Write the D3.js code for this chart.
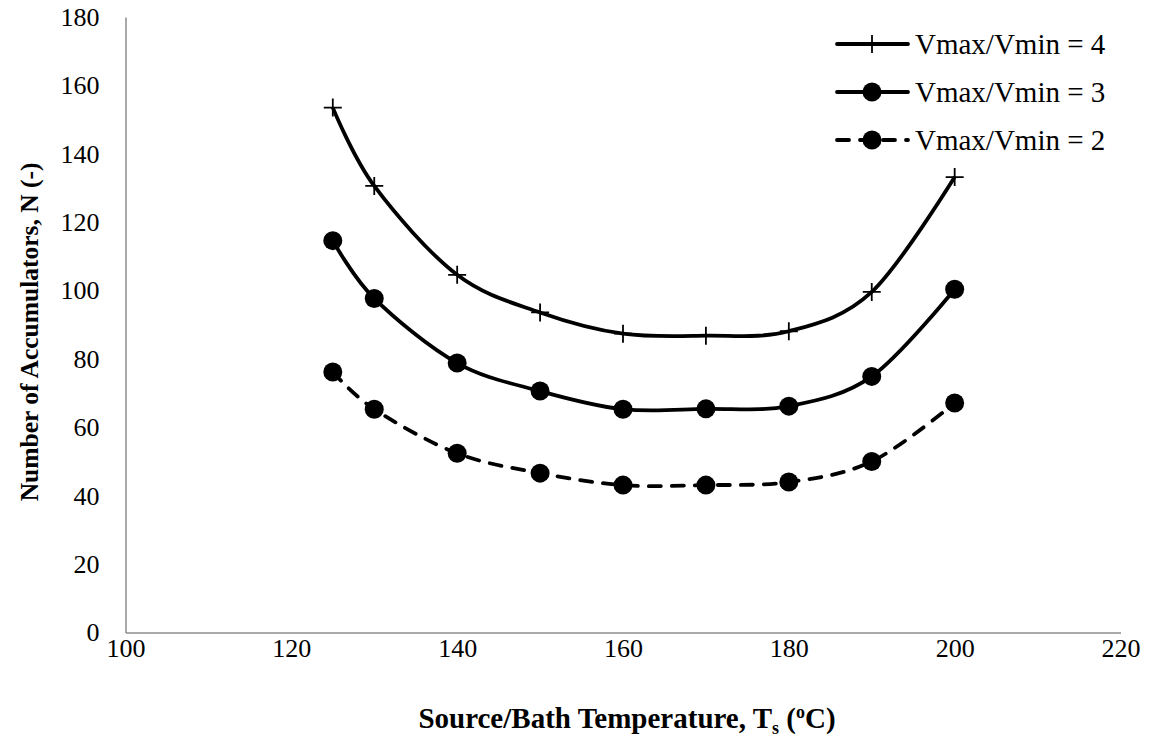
<!DOCTYPE html>
<html>
<head>
<meta charset="utf-8">
<script src="https://cdn.jsdelivr.net/npm/d3@7"></script>
</head>
<body style="margin:0">
<svg id="chart" width="1150" height="749"></svg>
<script>
// temperatures (x) and number of accumulators per volume ratio
const temps = [125, 130, 140, 150, 160, 170, 180, 190, 200];
const ratio4 = [153.5, 130.6, 104.6, 93.6, 87.4, 86.8, 88.1, 99.6, 133.2];
const ratio3 = [114.6, 97.7, 78.8, 70.6, 65.3, 65.4, 66.2, 74.9, 100.4];
const ratio2 = [76.2, 65.3, 52.4, 46.6, 43.1, 43.1, 44.0, 50.0, 67.1];
const xTicks = [100, 120, 140, 160, 180, 200, 220];
const yTicks = [0, 20, 40, 60, 80, 100, 120, 140, 160, 180];

const series = [
    {name: "Vmax/Vmin = 4", values: ratio4, marker: "plus", dashed: false},
    {name: "Vmax/Vmin = 3", values: ratio3, marker: "circle", dashed: false},
    {name: "Vmax/Vmin = 2", values: ratio2, marker: "circle", dashed: true}
];

const FONT = "'Liberation Serif'";
const width = 1150;
const height = 749;
const marginLeft = 125.5;
const marginRight = 29.5;
const marginTop = 17;
const marginBottom = 116.5;

const x = d3.scaleLinear()
    .domain([100, 220])
    .range([marginLeft, width - marginRight]);

const y = d3.scaleLinear()
    .domain([0, 180])
    .range([height - marginBottom, marginTop]);

const svg = d3.select("#chart");

// axes
const xAxis = svg.append("g")
    .attr("transform", `translate(0,${y(0)})`)
    .call(d3.axisBottom(x).tickValues(xTicks).tickSize(0).tickPadding(6));
const yAxis = svg.append("g")
    .attr("transform", `translate(${x(100)},0)`)
    .call(d3.axisLeft(y).tickValues(yTicks).tickSize(0).tickPadding(26));

[xAxis, yAxis].forEach(g => {
    g.select(".domain").attr("stroke", "#8c8c8c").attr("stroke-width", 1.5);
    g.selectAll("text")
        .attr("fill", "#000")
        .style("font-family", FONT)
        .style("font-size", "26px");
});

// lines
const line = d3.line()
    .x((d, i) => x(temps[i]))
    .y(d => y(d))
    .curve(d3.curveCardinal.tension(0));

const plus = (cx, cy, s) => `M${cx - s},${cy}H${cx + s}M${cx},${cy - s}V${cy + s}`;

function drawMarker(g, marker, cx, cy) {
    if (marker === "circle") {
        g.append("circle")
            .attr("cx", cx)
            .attr("cy", cy)
            .attr("r", 9.5)
            .attr("fill", "#000");
    } else {
        g.append("path")
            .attr("d", plus(cx, cy, 9))
            .attr("stroke", "#000")
            .attr("stroke-width", 1.8)
            .attr("fill", "none");
    }
}

series.forEach(s => {
    svg.append("path")
        .attr("fill", "none")
        .attr("stroke", "#000")
        .attr("stroke-width", 3.8)
        .attr("stroke-linecap", s.dashed ? "round" : "butt")
        .attr("stroke-dasharray", s.dashed ? "12,11" : null)
        .attr("d", line(s.values));

    const g = svg.append("g");
    s.values.forEach((v, i) => drawMarker(g, s.marker, x(temps[i]), y(v)));
});

// legend
series.forEach((s, i) => {
    const ly = 44 + i * 48;
    svg.append("path")
        .attr("d", `M837,${ly}H908`)
        .attr("stroke", "#000")
        .attr("stroke-width", 3.8)
        .attr("stroke-linecap", "round")
        .attr("stroke-dasharray", s.dashed ? "12,11" : null);
    drawMarker(svg, s.marker, 872, ly);
    svg.append("text")
        .attr("x", 915)
        .attr("y", ly + 9.5)
        .style("font-family", FONT)
        .style("font-size", "29px")
        .text(s.name);
});

// axis titles
const xTitle = svg.append("text")
    .attr("x", 627)
    .attr("y", 728)
    .attr("text-anchor", "middle")
    .style("font-family", FONT)
    .style("font-size", "29px")
    .style("font-weight", "bold");
xTitle.append("tspan").text("Source/Bath Temperature, T");
xTitle.append("tspan").attr("dy", 6).style("font-size", "18px").text("s");
xTitle.append("tspan").attr("dy", -6).text(" (");
xTitle.append("tspan").attr("dy", -10).style("font-size", "18px").text("o");
xTitle.append("tspan").attr("dy", 10).text("C)");

svg.append("text")
    .attr("transform", `translate(38, ${y(92) + 14}) rotate(-90)`)
    .attr("text-anchor", "middle")
    .style("font-family", FONT)
    .style("font-size", "25.5px")
    .style("font-weight", "bold")
    .text("Number of Accumulators, N (-)");
</script>
</body>
</html>
